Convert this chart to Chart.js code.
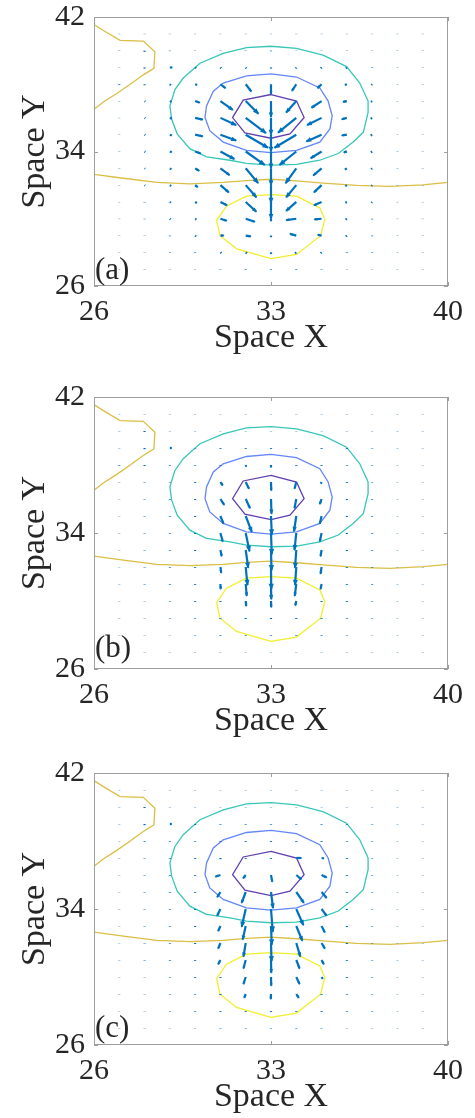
<!DOCTYPE html>
<html lang="en">
<head>
<meta charset="UTF-8" />
<title>Flow field over potential contours</title>
<script src="https://cdn.jsdelivr.net/npm/chart.js@4.4.0/dist/chart.umd.min.js"></script>
<style>
  body { margin: 0; background: #fff; width: 475px; height: 1118px; position: relative; overflow: hidden; }
  .panel { position: absolute; left: 0; width: 475px; }
  .panel canvas { display: block; }
</style>
</head>
<body>
<div class="panel" style="top:-10px"><canvas id="chartA" width="475" height="376"></canvas></div>
<div class="panel" style="top:370px"><canvas id="chartB" width="475" height="379"></canvas></div>
<div class="panel" style="top:746px"><canvas id="chartC" width="475" height="379"></canvas></div>

<script>
// axes
const X_TICKS = [26, 33, 40]
const Y_TICKS = [26, 34, 42]
// quiver grid: columns x = 27..39, rows y = 41 down to 27
const X_GRID = [27, 28, 29, 30, 31, 32, 33, 34, 35, 36, 37, 38, 39]
const Y_GRID = [41, 40, 39, 38, 37, 36, 35, 34, 33, 32, 31, 30, 29, 28, 27]

// contour levels (same field in every panel)
const LEVEL_INNER = [[33.0,37.39],[34.01,37.0],[34.31,36.02],[33.75,35.05],[33.0,34.79],[31.97,35.11],[31.48,36.02],[31.9,37.06],[33.0,37.39]]
const LEVEL_MID = [[33.0,38.62],[34.01,38.43],[34.93,37.78],[35.26,37.0],[35.42,36.12],[35.33,35.34],[34.93,34.56],[34.01,34.07],[33.0,33.93],[32.03,34.07],[31.11,34.56],[30.58,35.24],[30.39,36.02],[30.45,36.71],[30.72,37.59],[31.11,38.07],[32.03,38.5],[33.0,38.62]]
const LEVEL_OUTER = [[33.0,40.26],[34.01,40.13],[35.06,39.73],[35.99,39.05],[36.51,38.07],[36.84,37.0],[36.84,36.32],[36.65,35.14],[36.25,34.56],[35.66,33.88],[34.93,33.48],[34.01,33.23],[33.0,33.19],[32.03,33.29],[31.38,33.48],[30.45,33.68],[29.79,34.17],[29.29,35.05],[29.07,35.93],[29.0,36.71],[29.2,37.68],[29.53,38.37],[30.19,39.25],[31.11,39.83],[32.03,40.18],[33.0,40.26]]
const LEVEL_BAND = [[26,32.64],[27.16,32.41],[28.48,32.16],[29.79,32.08],[31.11,32.16],[32.03,32.27],[33.0,32.35],[34.01,32.25],[35.06,32.12],[36.38,31.98],[37.7,31.92],[39.02,32.02],[40,32.16]]
const LEVEL_CORNER = [[26,41.55],[26.37,41.2],[27.03,40.61],[27.95,40.57],[28.41,39.93],[28.37,38.95],[27.95,38.56],[27.42,37.98],[26.9,37.45],[26.37,36.94],[26,36.51]]
const LEVEL_LOW = [[33.0,31.43],[34.01,31.34],[34.93,30.65],[35.13,29.97],[34.96,28.99],[34.01,27.88],[33.0,27.63],[31.64,28.21],[30.98,28.99],[30.85,29.91],[31.24,30.75],[32.03,31.34],[33.0,31.43]]

// panel (a) vectors
const U_A = [
  [0,0,0,0,0,0,0,0,0,0,0,0,0],
  [0,0,0,0,0,0,0,0,0,0,0,0,0],
  [0,0,0.1,0.04,0.03,0.02,0,-0.02,-0.03,-0.04,0,0,0],
  [0,0,0.04,0.08,0.2,0.22,0,-0.17,-0.16,-0.08,-0.03,0,0],
  [0,0.03,0.06,0.18,0.49,0.5,0,-0.4,-0.4,-0.15,-0.05,0,0],
  [0,0.03,0.08,0.3,0.62,0.8,0,-0.72,-0.57,-0.2,-0.06,0,0],
  [0,0.03,0.08,0.3,0.62,0.88,0,-0.86,-0.6,-0.2,-0.06,0,0],
  [0,0.03,0.08,0.22,0.55,0.75,0,-0.66,-0.43,-0.12,-0.05,0,0],
  [0,0.02,0.06,0.16,0.36,0.49,0,-0.42,-0.33,-0.08,-0.04,0,0],
  [0,0.02,0.05,0.1,0.33,0.42,0,-0.4,-0.3,-0.06,-0.03,0,0],
  [0,0,0.04,0.07,0.26,0.42,0,-0.4,-0.3,-0.06,-0.03,0,0],
  [0,0,0.03,0.05,0.25,0.36,0,-0.4,-0.28,-0.05,0,0,0],
  [0,0,0,0.04,0.13,0.2,0,-0.25,-0.15,-0.04,0,0,0],
  [0,0,0,0,0.04,0.05,0,-0.05,-0.04,0,0,0,0],
  [0,0,0,0,0,0,0,0,0,0,0,0,0]
]
const V_A = [
  [-0.02,-0.02,-0.02,-0.02,-0.02,-0.02,-0.02,-0.02,-0.02,-0.02,-0.02,-0.02,-0.02],
  [-0.02,-0.07,-0.03,-0.02,-0.02,-0.02,-0.04,-0.02,-0.02,-0.02,-0.02,-0.02,-0.02],
  [-0.02,-0.07,0,-0.05,-0.06,-0.06,-0.07,-0.06,-0.06,-0.06,-0.03,-0.02,-0.02],
  [-0.05,-0.06,-0.06,-0.05,-0.23,-0.43,-0.59,-0.39,-0.23,-0.05,-0.05,-0.02,-0.02],
  [-0.02,-0.03,-0.05,-0.1,-0.53,-0.75,-0.95,-0.68,-0.4,-0.05,-0.05,-0.02,-0.02],
  [-0.02,-0.03,-0.05,-0.1,-0.43,-0.9,-1.0,-0.88,-0.43,-0.08,-0.05,-0.02,-0.02],
  [-0.02,-0.03,-0.05,-0.1,-0.35,-0.78,-1.0,-0.78,-0.4,-0.05,-0.05,-0.02,-0.02],
  [-0.02,-0.03,-0.05,-0.12,-0.45,-0.8,-1.0,-0.8,-0.4,-0.05,-0.05,-0.02,-0.02],
  [-0.02,-0.03,-0.06,-0.15,-0.4,-0.88,-1.0,-0.88,-0.43,-0.08,-0.05,-0.02,-0.02],
  [-0.02,-0.03,-0.06,-0.12,-0.43,-0.72,-1.05,-0.72,-0.43,-0.06,-0.05,-0.02,-0.02],
  [-0.02,-0.03,-0.05,-0.06,-0.2,-0.58,-1.0,-0.53,-0.2,-0.05,-0.05,-0.02,-0.02],
  [-0.02,-0.03,-0.05,-0.05,-0.12,-0.18,-0.15,-0.08,-0.04,-0.05,-0.04,-0.02,-0.02],
  [-0.02,-0.02,-0.04,-0.05,0,-0.05,-0.1,0.1,0.05,-0.05,-0.04,-0.02,-0.02],
  [-0.02,-0.02,-0.03,-0.04,-0.05,-0.06,-0.1,-0.06,-0.05,-0.04,-0.03,-0.02,-0.02],
  [-0.02,-0.02,-0.02,-0.02,-0.03,-0.04,-0.04,-0.04,-0.03,-0.02,-0.02,-0.02,-0.02]
]

// panel (b) vectors
const U_B = [
  [0,0,0,0,0,0,0,0,0,0,0,0,0],
  [0,0,0,0,0,0,0,0,0,0,0,0,0],
  [0,0,0.08,0,0,0,0,0,0,0,0,0,0],
  [0,0,0,0,0,0.02,0,0,0,0,0,0,0],
  [0,0,0,0,0.09,0.13,0.01,-0.07,-0.03,0,0,0,0],
  [0,0,0,0,0.15,0.17,0.02,-0.07,-0.07,0,0,0,0],
  [0,0,0,0,0.12,0.24,0.03,-0.09,-0.07,0,0,0,0],
  [0,0,0,0,0.09,0.15,0.03,-0.07,-0.07,0,0,0,0],
  [0,0,0,0,0.05,0.1,0.02,-0.05,-0.04,0,0,0,0],
  [0,0,0,0,0.03,0.07,0.01,-0.05,-0.04,0,0,0,0],
  [0,0,0,0,0.01,0.04,0.01,-0.06,-0.04,0,0,0,0],
  [0,0,0,0,0,0.02,0.01,-0.04,0,0,0,0,0],
  [0,0,0,0,0,0,0,0,0,0,0,0,0],
  [0,0,0,0,0,0,0,0,0,0,0,0,0],
  [0,0,0,0,0,0,0,0,0,0,0,0,0]
]
const V_B = [
  [-0.02,-0.02,-0.02,-0.02,-0.02,-0.02,-0.02,-0.02,-0.02,-0.02,-0.02,-0.02,-0.02],
  [-0.02,-0.06,-0.02,-0.02,-0.02,-0.02,-0.02,-0.02,-0.02,-0.02,-0.02,-0.02,-0.02],
  [-0.02,-0.07,0,-0.03,-0.05,-0.05,-0.05,-0.05,-0.05,-0.05,-0.03,-0.02,-0.02],
  [-0.04,-0.06,-0.04,-0.04,-0.05,-0.1,-0.15,-0.05,-0.05,-0.04,-0.03,-0.02,-0.02],
  [-0.02,-0.03,-0.03,-0.05,-0.2,-0.4,-0.5,-0.4,-0.1,-0.05,-0.03,-0.02,-0.02],
  [-0.02,-0.03,-0.04,-0.06,-0.35,-0.54,-0.87,-0.54,-0.3,-0.06,-0.04,-0.02,-0.02],
  [-0.02,-0.03,-0.04,-0.06,-0.45,-0.93,-1.1,-0.9,-0.45,-0.06,-0.04,-0.02,-0.02],
  [-0.02,-0.03,-0.04,-0.06,-0.5,-1.08,-1.25,-1.0,-0.5,-0.06,-0.04,-0.02,-0.02],
  [-0.02,-0.03,-0.04,-0.06,-0.37,-1.05,-1.2,-1.05,-0.37,-0.06,-0.04,-0.02,-0.02],
  [-0.02,-0.03,-0.04,-0.05,-0.35,-1.06,-1.3,-1.06,-0.4,-0.05,-0.04,-0.02,-0.02],
  [-0.02,-0.03,-0.04,-0.05,-0.3,-0.7,-0.9,-0.7,-0.3,-0.05,-0.04,-0.02,-0.02],
  [-0.02,-0.02,-0.03,-0.05,-0.06,-0.3,-0.37,-0.27,-0.06,-0.05,-0.03,-0.02,-0.02],
  [-0.02,-0.02,-0.03,-0.04,-0.05,-0.06,-0.06,-0.06,-0.05,-0.04,-0.03,-0.02,-0.02],
  [-0.02,-0.02,-0.02,-0.03,-0.04,-0.04,-0.04,-0.04,-0.04,-0.03,-0.02,-0.02,-0.02],
  [-0.02,-0.02,-0.02,-0.02,-0.02,-0.02,-0.02,-0.02,-0.02,-0.02,-0.02,-0.02,-0.02]
]

// panel (c) vectors
const U_C = [
  [0,0,0,0,0,0,0,0,0,0,0,0,0],
  [0,0,0,0,0,0,0,0,0,0,0,0,0],
  [0,0,0.08,0,0,0,0,0,0,0,0,0,0],
  [0,0,0,0,0,0,0,0,0,0,0,0,0],
  [0,0,0,0,0,0,0,0.2,0.1,0,0,0,0],
  [0,0,0,0,-0.2,-0.1,0.05,0.2,0.2,0,0,0,0],
  [0,0,0,0,-0.13,-0.16,0.08,0.3,0.2,0,0,0,0],
  [0,0,0,0,-0.13,-0.16,0.07,0.28,0.2,0,0,0,0],
  [0,0,0,0,-0.09,-0.12,0.03,0.24,0.13,0,0,0,0],
  [0,0,0,0,-0.09,-0.09,0.02,0.16,0.13,0,0,0,0],
  [0,0,0,0,-0.09,-0.09,0.01,0.13,0.09,0,0,0,0],
  [0,0,0,0,0,-0.09,0.01,0.13,0.05,0,0,0,0],
  [0,0,0,0,0,-0.06,-0.01,0.1,0,0,0,0,0],
  [0,0,0,0,0,0,0,0,0,0,0,0,0],
  [0,0,0,0,0,0,0,0,0,0,0,0,0]
]
const V_C = [
  [-0.02,-0.02,-0.02,-0.02,-0.02,-0.02,-0.02,-0.02,-0.02,-0.02,-0.02,-0.02,-0.02],
  [-0.02,-0.06,-0.02,-0.02,-0.02,-0.02,-0.02,-0.02,-0.02,-0.02,-0.02,-0.02,-0.02],
  [-0.02,-0.07,0,-0.05,-0.04,-0.04,-0.04,-0.04,-0.04,-0.04,-0.03,-0.02,-0.02],
  [-0.02,-0.04,-0.04,-0.04,-0.05,-0.05,-0.05,-0.05,-0.05,-0.04,-0.03,-0.02,-0.02],
  [-0.02,-0.03,-0.04,-0.05,-0.07,-0.05,-0.05,0,-0.03,-0.05,-0.03,-0.02,-0.02],
  [-0.02,-0.03,-0.04,-0.05,-0.1,-0.2,-0.4,-0.25,-0.15,-0.05,-0.03,-0.02,-0.02],
  [-0.02,-0.03,-0.04,-0.05,-0.3,-0.64,-0.95,-0.64,-0.35,-0.05,-0.03,-0.02,-0.02],
  [-0.02,-0.03,-0.04,-0.06,-0.4,-1.05,-1.35,-0.95,-0.4,-0.06,-0.03,-0.02,-0.02],
  [-0.02,-0.03,-0.04,-0.06,-0.3,-0.8,-1.1,-0.87,-0.38,-0.06,-0.03,-0.02,-0.02],
  [-0.02,-0.03,-0.04,-0.06,-0.33,-0.8,-1.08,-0.8,-0.33,-0.06,-0.03,-0.02,-0.02],
  [-0.02,-0.03,-0.04,-0.05,-0.25,-0.5,-0.75,-0.5,-0.25,-0.05,-0.03,-0.02,-0.02],
  [-0.02,-0.02,-0.03,-0.05,-0.06,-0.42,-0.52,-0.42,-0.12,-0.05,-0.03,-0.02,-0.02],
  [-0.02,-0.02,-0.03,-0.04,-0.06,-0.23,-0.3,-0.23,-0.05,-0.04,-0.03,-0.02,-0.02],
  [-0.02,-0.02,-0.03,-0.04,-0.05,-0.05,-0.05,-0.05,-0.05,-0.04,-0.03,-0.02,-0.02],
  [-0.02,-0.02,-0.02,-0.02,-0.03,-0.03,-0.03,-0.03,-0.03,-0.02,-0.02,-0.02,-0.02]
]

const SERIF = "'Liberation Serif', 'Times New Roman', serif"
const TEXT_COLOR = '#262626'
const BOX_COLOR = '#9e9e9e'
const ARROW_COLOR = '#0072bd'

function contour(points, color) {
  return {
    data: points.map(p => ({ x: p[0], y: p[1] })),
    showLine: true,
    borderColor: color,
    borderWidth: 1.3,
    pointRadius: 0,
    fill: false,
    tension: 0
  }
}

// arrows from each grid node, drawn through the chart scales
function quiver(u, v) {
  return {
    id: 'quiver',
    afterDatasetsDraw(chart) {
      const { ctx, chartArea: a, scales: { x, y } } = chart
      ctx.save()
      ctx.beginPath()
      ctx.rect(a.left, a.top, a.right - a.left, a.bottom - a.top)
      ctx.clip()
      ctx.strokeStyle = ARROW_COLOR
      ctx.fillStyle = ARROW_COLOR
      ctx.lineWidth = 2.2
      ctx.lineCap = 'butt'
      ctx.lineJoin = 'miter'
      Y_GRID.forEach((gy, r) => {
        X_GRID.forEach((gx, c) => {
          const x0 = x.getPixelForValue(gx)
          const y0 = y.getPixelForValue(gy)
          const x1 = x.getPixelForValue(gx + u[r][c])
          const y1 = y.getPixelForValue(gy + v[r][c])
          const len = Math.hypot(x1 - x0, y1 - y0)
          ctx.beginPath()
          ctx.moveTo(x0, y0)
          ctx.lineTo(x1, y1)
          ctx.stroke()
          if (len > 3) {
            // small filled head at the tip
            const ang = Math.atan2(y1 - y0, x1 - x0)
            const h = Math.min(Math.max(len * 0.32, 3), 6)
            ctx.beginPath()
            ctx.moveTo(x1 + Math.cos(ang), y1 + Math.sin(ang))
            ctx.lineTo(x1 - h * Math.cos(ang - 0.45), y1 - h * Math.sin(ang - 0.45))
            ctx.lineTo(x1 - h * Math.cos(ang + 0.45), y1 - h * Math.sin(ang + 0.45))
            ctx.closePath()
            ctx.fill()
          }
        })
      })
      ctx.restore()
    }
  }
}

// axes box with inward ticks, and the panel letter
function frame(label, lift) {
  return {
    id: 'frame',
    afterDraw(chart) {
      const { ctx, chartArea: a, scales: { x, y } } = chart
      ctx.save()
      ctx.strokeStyle = BOX_COLOR
      ctx.lineWidth = 1
      ctx.strokeRect(a.left + 0.5, a.top + 0.5, a.right - a.left - 1, a.bottom - a.top - 1)
      ctx.beginPath()
      X_TICKS.forEach(t => {
        const p = Math.round(x.getPixelForValue(t)) + 0.5
        ctx.moveTo(p, a.bottom); ctx.lineTo(p, a.bottom - 4)
        ctx.moveTo(p, a.top); ctx.lineTo(p, a.top + 4)
      })
      Y_TICKS.forEach(t => {
        const p = Math.round(y.getPixelForValue(t)) + 0.5
        ctx.moveTo(a.left, p); ctx.lineTo(a.left + 4, p)
        ctx.moveTo(a.right, p); ctx.lineTo(a.right - 4, p)
      })
      ctx.stroke()
      ctx.fillStyle = TEXT_COLOR
      ctx.font = '31px ' + SERIF
      ctx.textBaseline = 'alphabetic'
      ctx.textAlign = 'left'
      ctx.fillText(label, a.left + 1, a.bottom - lift)
      ctx.restore()
    }
  }
}

function buildPanel(canvasId, u, v, label, lift) {
  const ctx = document.getElementById(canvasId).getContext('2d')
  return new Chart(ctx, {
    type: 'scatter',
    data: {
      datasets: [
        contour(LEVEL_INNER, 'rgb(96,64,176)'),
        contour(LEVEL_MID, 'rgb(100,134,246)'),
        contour(LEVEL_OUTER, 'rgb(56,198,184)'),
        contour(LEVEL_BAND, 'rgb(218,190,70)'),
        contour(LEVEL_CORNER, 'rgb(218,190,70)'),
        contour(LEVEL_LOW, 'rgb(242,238,44)')
      ]
    },
    options: {
      responsive: false,
      animation: false,
      events: [],
      layout: { padding: { top: 23, right: 27, left: 0, bottom: 0 } },
      plugins: { legend: { display: false }, tooltip: { enabled: false } },
      scales: {
        x: {
          type: 'linear',
          min: 26,
          max: 40,
          afterBuildTicks: s => { s.ticks = X_TICKS.map(t => ({ value: t })) },
          afterFit: s => { s.height = 80 },
          grid: { display: false, drawTicks: false },
          border: { display: false },
          ticks: { padding: 8, color: TEXT_COLOR, font: { family: SERIF, size: 30 }, maxRotation: 0 },
          title: { display: true, text: 'Space X', color: TEXT_COLOR, font: { family: SERIF, size: 34 }, padding: { top: 0, bottom: 8 } }
        },
        y: {
          type: 'linear',
          min: 26,
          max: 42,
          afterBuildTicks: s => { s.ticks = Y_TICKS.map(t => ({ value: t })) },
          afterFit: s => { s.width = 94 },
          grid: { display: false, drawTicks: false },
          border: { display: false },
          ticks: { padding: 9, color: TEXT_COLOR, font: { family: SERIF, size: 30 } },
          title: { display: true, text: 'Space Y', color: TEXT_COLOR, font: { family: SERIF, size: 34 }, padding: { top: 15, bottom: 0 } }
        }
      }
    },
    plugins: [quiver(u, v), frame(label, lift)]
  })
}

buildPanel('chartA', U_A, V_A, '(a)', 7)
buildPanel('chartB', U_B, V_B, '(b)', 12)
buildPanel('chartC', U_C, V_C, '(c)', 8)
</script>
</body>
</html>
